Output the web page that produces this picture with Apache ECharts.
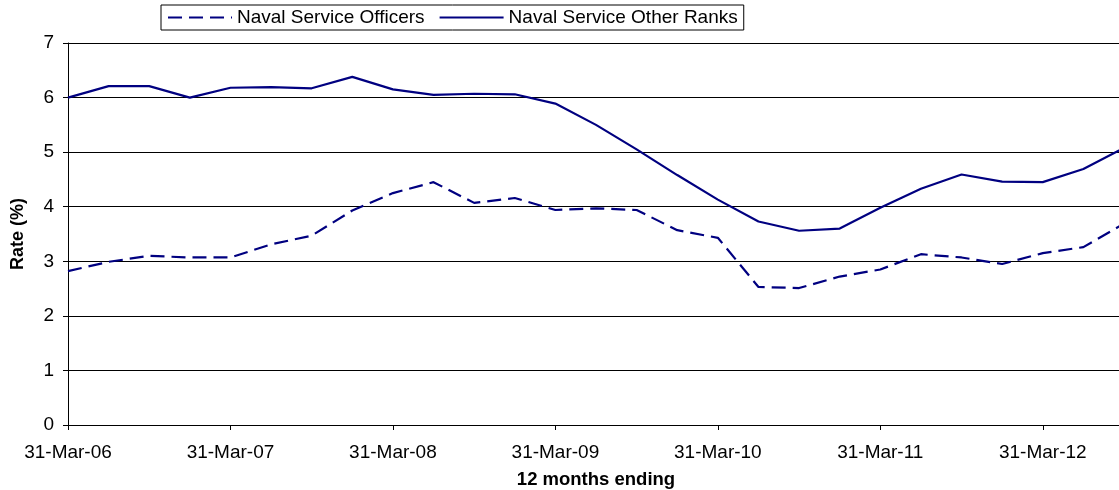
<!DOCTYPE html>
<html>
<head>
<meta charset="utf-8">
<script src="https://cdn.jsdelivr.net/npm/echarts@6/dist/echarts.min.js"></script>
<style>html,body{margin:0;padding:0;background:#fff;}#chart{width:1119px;height:490px;}</style>
</head>
<body>
<div id="chart"></div>
<script>
const categories = [
  "31-Mar-06","30-Jun-06","30-Sep-06","31-Dec-06",
  "31-Mar-07","30-Jun-07","30-Sep-07","31-Dec-07",
  "31-Mar-08","30-Jun-08","30-Sep-08","31-Dec-08",
  "31-Mar-09","30-Jun-09","30-Sep-09","31-Dec-09",
  "31-Mar-10","30-Jun-10","30-Sep-10","31-Dec-10",
  "31-Mar-11","30-Jun-11","30-Sep-11","31-Dec-11",
  "31-Mar-12","30-Jun-12","30-Sep-12"
];
const officers = [
  2.82, 2.99, 3.10, 3.07,
  3.07, 3.31, 3.47, 3.93,
  4.25, 4.45, 4.07, 4.16,
  3.94, 3.97, 3.94, 3.57,
  3.43, 2.53, 2.51, 2.72,
  2.85, 3.13, 3.07, 2.95,
  3.15, 3.26, 3.69
];
const otherRanks = [
  6.00, 6.21, 6.21, 6.00,
  6.18, 6.19, 6.17, 6.38,
  6.15, 6.05, 6.07, 6.06,
  5.89, 5.50, 5.05, 4.58,
  4.13, 3.73, 3.56, 3.60,
  3.98, 4.33, 4.59, 4.46,
  4.45, 4.69, 5.08
];
const seriesNames = ["Naval Service Officers", "Naval Service Other Ranks"];

const chart = echarts.init(document.getElementById('chart'));
const font = 'Liberation Sans, Arial, sans-serif';
const navy = '#000080';
chart.setOption({
  animation: false,
  textStyle: { fontFamily: font },
  grid: { left: 68, right: -5, top: 43, bottom: 65, outerBoundsMode: 'none', containLabel: false },
  legend: {
    top: 5, left: 161,
    itemWidth: 64, itemHeight: 10, itemGap: 14,
    padding: [3, 6, 3, 6],
    borderColor: '#000', borderWidth: 1,
    itemStyle: { opacity: 0 },
    textStyle: { fontSize: 19, color: '#000', fontFamily: font },
    data: seriesNames
  },
  xAxis: {
    type: 'category',
    data: categories,
    boundaryGap: false,
    name: '12 months ending',
    nameLocation: 'middle',
    nameGap: 45,
    nameTextStyle: { fontSize: 18.5, fontWeight: 'bold', color: '#000', fontFamily: font },
    axisLine: { lineStyle: { color: '#000', width: 1 } },
    axisTick: { interval: 3, length: 5, lineStyle: { color: '#000' } },
    axisLabel: { interval: 3, fontSize: 19, color: '#000', margin: 18, fontFamily: font },
    splitLine: { show: false }
  },
  yAxis: {
    type: 'value',
    min: 0, max: 7, interval: 1,
    name: 'Rate (%)',
    nameLocation: 'middle',
    nameGap: 41,
    nameTextStyle: { fontSize: 18, fontWeight: 'bold', color: '#000', fontFamily: font },
    axisLine: { show: true, lineStyle: { color: '#000', width: 1 } },
    axisTick: { show: true, length: 5, lineStyle: { color: '#000' } },
    axisLabel: { fontSize: 19, color: '#000', margin: 14, fontFamily: font },
    splitLine: { show: true, lineStyle: { color: '#000', width: 1 } }
  },
  series: [
    {
      name: seriesNames[0], type: 'line', data: officers,
      symbol: 'none', showSymbol: false,
      lineStyle: { color: navy, width: 2.2, type: [14, 7] },
      itemStyle: { color: navy }
    },
    {
      name: seriesNames[1], type: 'line', data: otherRanks,
      symbol: 'none', showSymbol: false,
      lineStyle: { color: navy, width: 2.2, type: 'solid' },
      itemStyle: { color: navy }
    }
  ]
});
</script>
</body>
</html>
